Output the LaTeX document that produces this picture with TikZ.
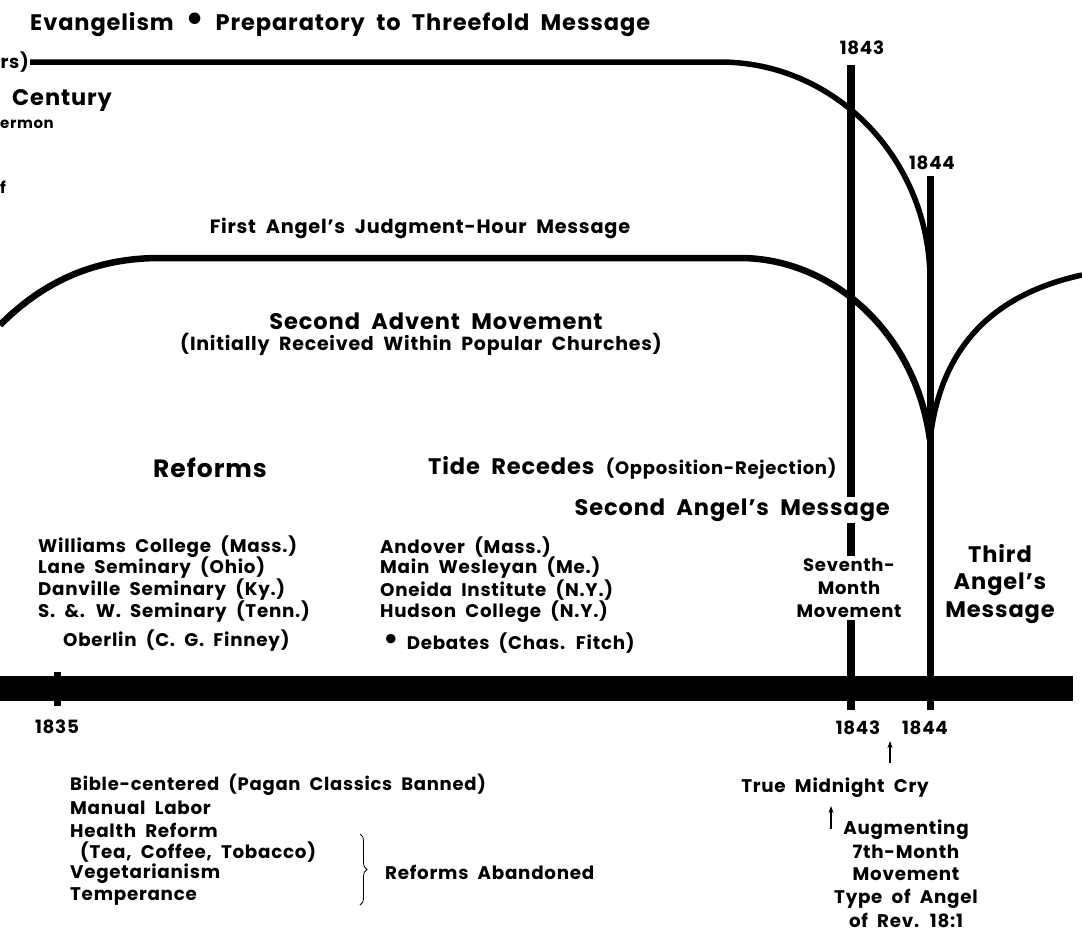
\documentclass[tikz,border=0pt]{standalone}
\usepackage{fontspec}
\setmainfont{Poppins}[WordSpace=2, LetterSpace=4]
\usetikzlibrary{arrows.meta,decorations.pathreplacing}
\newcommand{\fs}[1]{\bfseries\fontsize{#1}{#1}\selectfont}
\begin{document}
\begin{tikzpicture}[x=1pt,y=-1pt,
  t/.style={inner sep=0pt, font=\fs{18.3}},
  tbig/.style={inner sep=0pt, font=\fs{22.5}},
  tsmall/.style={inner sep=0pt, font=\fs{17}},
  white/.style={fill=white, inner sep=2pt},
  thick1/.style={line width=5.5pt},
  thick2/.style={line width=6.5pt},
  bar/.style={line width=8pt},
  timeline/.style={line width=25pt},
  up/.style={-{Stealth[length=7pt,width=5pt]}, line width=1.3pt}
]
\useasboundingbox (0,0) rectangle (1082,932);

% ---- coordinates
\coordinate (t0) at (30,62);
\coordinate (t1) at (720,62);
\coordinate (t2) at (930,280);
\coordinate (s0) at (0,325);
\coordinate (s1) at (160,258);
\coordinate (s2) at (740,258);
\coordinate (cusp) at (930,440);
\coordinate (r1) at (1082,275);
\coordinate (b43t) at (851,65);
\coordinate (b43b) at (851,710);
\coordinate (b44t) at (930,176);
\coordinate (b44b) at (930,710);
\coordinate (b35t) at (57,672);
\coordinate (b35b) at (57,706);
\coordinate (tlL) at (0,688);
\coordinate (tlR) at (1073,688);

% ---- lines
\draw[timeline] (tlL) -- (tlR);
\draw[bar, line width=7pt] (b35t) -- (b35b);
\draw[thick1] (t0) -- (t1) .. controls (836,62) and (930,160) .. (t2);
\draw[thick2] (s0) .. controls (40,285) and (90,258) .. (s1) -- (s2)
   .. controls (830,258) and (915,330) .. (cusp);
\draw[thick1] (cusp) .. controls (940,350) and (990,295) .. (r1);
\draw[bar] (b43t) -- (b43b);
\draw[bar, line width=7pt] (b44t) -- (b44b);

% ---- top texts
\node[tbig, anchor=west] (title) at (30,25)
  {Evangelism \raisebox{-0.5pt}{\scalebox{1.7}{•}} Preparatory to Threefold Message};
\node[t, anchor=east] (rs) at (29,62) {rs)};
\node[t] (y43t) at (862,48) {1843};
\node[t] (y44t) at (932,163) {1844};
\node[tbig, anchor=west] (cent) at (12,100) {Century};
\node[tsmall, font=\fs{15}, anchor=west] (serm) at (0,124) {ermon};
\node[tsmall, font=\fs{16}, anchor=west] (ff) at (0,187) {f};
\node[tsmall, font=\fs{19.3}] (first) at (420,228) {First Angel’s Judgment-Hour Message};
\node[tbig] (sam) at (436,321) {Second Advent Movement};
\node[tsmall, font=\fs{19}] (init) at (421,344) {(Initially Received Within Popular Churches)};

% ---- middle texts
\node[tbig, font=\fs{25}] (ref) at (210,468) {Reforms};
\node[tbig, anchor=west] (tide) at (428,468) {Tide Recedes {\fs{18}(Opposition-Rejection)}};
\node[tbig, white, anchor=east] (sec) at (892,510) {Second Angel’s Message};
\node[t, font=\fs{18}, white, align=center] (seventh) at (849,588)
  {Seventh-\\[5pt]Month\\[5pt]Movement};
\node[tbig, align=center] (third) at (1000,584)
  {Third\\[5pt]Angel’s\\[5pt]Message};

% ---- lists above timeline
\node[t, anchor=west] (l1) at (38,547) {Williams College (Mass.)};
\node[t, anchor=west] (l2) at (38,568) {Lane Seminary (Ohio)};
\node[t, anchor=west] (l3) at (38,590) {Danville Seminary (Ky.)};
\node[t, anchor=west] (l4) at (38,612) {S. \&. W. Seminary (Tenn.)};
\node[t, anchor=west] (l5) at (63,641) {Oberlin (C. G. Finney)};
\node[t, anchor=west] (m1) at (380,547) {Andover (Mass.)};
\node[t, anchor=west] (m2) at (380,568) {Main Wesleyan (Me.)};
\node[t, anchor=west] (m3) at (380,590) {Oneida Institute (N.Y.)};
\node[t, anchor=west] (m4) at (380,612) {Hudson College (N.Y.)};
\node[t, anchor=west] (m5) at (383,643) {\raisebox{-0.5pt}{\scalebox{1.7}{•}}\hspace{8pt}Debates (Chas. Fitch)};

% ---- below timeline
\node[t] (y35) at (57,727) {1835};
\node[t] (y43b) at (858,728) {1843};
\node[t] (y44b) at (925,728) {1844};
\coordinate (a1t) at (890,741);
\coordinate (a1b) at (890,763);
\draw[up] (a1b) -- (a1t);
\node[t] (tmc) at (835,788) {True Midnight Cry};
\coordinate (a2t) at (831,806);
\coordinate (a2b) at (831,829);
\draw[up] (a2b) -- (a2t);
\node[t, align=center, anchor=north] (aug) at (906,820)
  {Augmenting\\[4pt]7th-Month\\[4pt]Movement\\[4pt]Type of Angel\\[4pt]of Rev. 18:1};

\node[t, font=\fs{18}, anchor=west] (r1t) at (70,785) {Bible-centered (Pagan Classics Banned)};
\node[t, anchor=west] (r2t) at (70,808) {Manual Labor};
\node[t, anchor=west] (r3t) at (70,830) {Health Reform};
\node[t, anchor=west] (r4t) at (80,852) {(Tea, Coffee, Tobacco)};
\node[t, anchor=west] (r5t) at (70,874) {Vegetarianism};
\node[t, anchor=west] (r6t) at (70,896) {Temperance};
\coordinate (brT) at (360,834);
\coordinate (brB) at (360,905);
\draw[line width=0.8pt, decorate, decoration={brace, amplitude=7pt}] (brT) -- (brB);
\node[t, anchor=west] (aband) at (385,872) {Reforms Abandoned};
\end{tikzpicture}
\end{document}
